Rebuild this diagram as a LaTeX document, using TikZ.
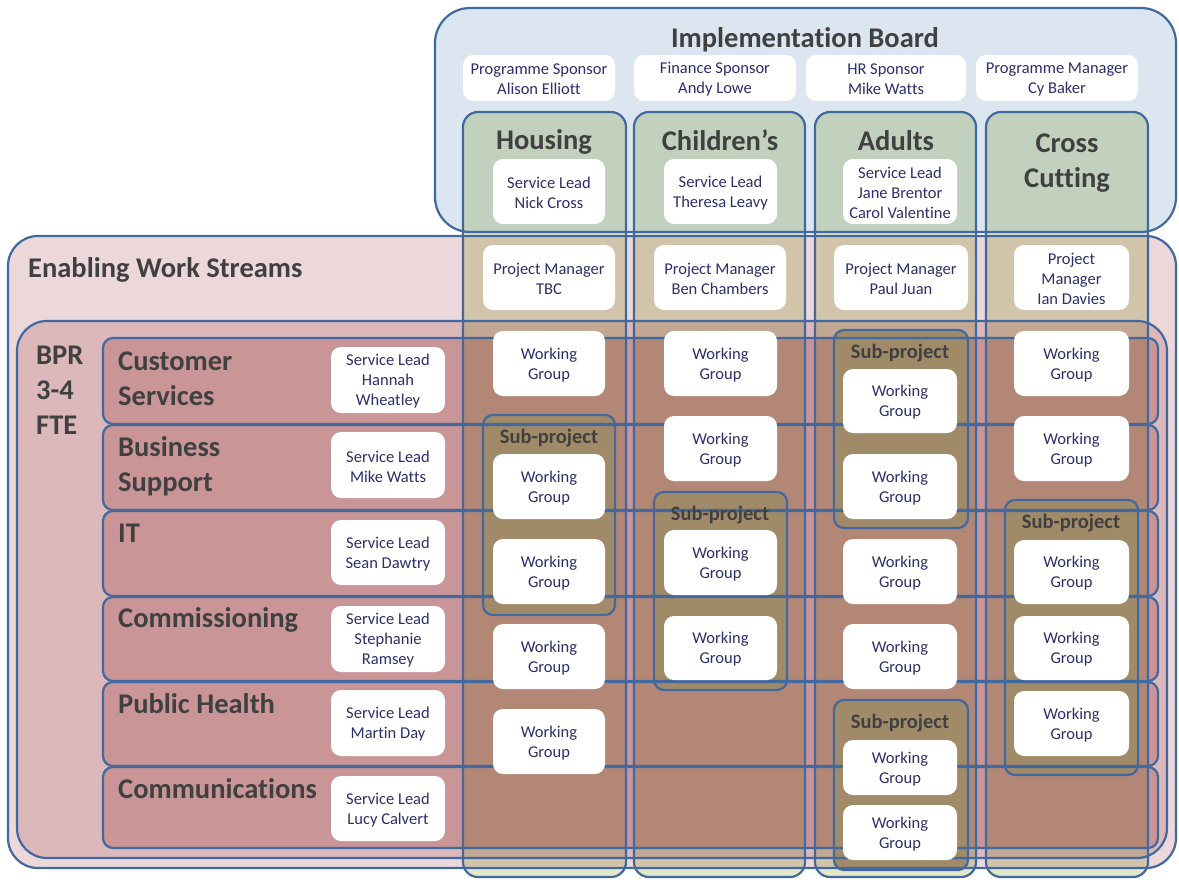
\documentclass[tikz,border=0pt]{standalone}
\usepackage{fontspec}
\setmainfont{Carlito}[Ligatures=NoCommon]
\definecolor{bd}{HTML}{41699F}
\definecolor{boardfill}{HTML}{DCE6F1}
\definecolor{enfill}{HTML}{ECD8DA}
\definecolor{bprfill}{HTML}{DCB8BB}
\definecolor{rowfill}{HTML}{C99597}
\definecolor{colfill}{HTML}{E2E8C8}
\definecolor{subfill}{HTML}{A08A67}
\definecolor{headtxt}{HTML}{404040}
\definecolor{smalltxt}{HTML}{2C2F6B}
\tikzset{
  border/.style={draw=bd, line width=2.2pt},
  wbox/.style={fill=white, rounded corners=10pt, inner sep=0pt, align=center,
    text=smalltxt, font=\fontsize{16.5}{20}\selectfont},
  head/.style={text=headtxt, font=\bfseries\fontsize{28.5}{35}\selectfont, inner sep=0pt},
  subhead/.style={text=headtxt, font=\bfseries\fontsize{20.5}{24}\selectfont, inner sep=0pt},
}
% white box: name, x1, y1, x2, y2, text
\newcommand\wboxat[6]{%
  \path (#2,#3) rectangle (#4,#5);
  \fill[white, rounded corners=10pt] (#2,#3) rectangle (#4,#5);
  \node[text=smalltxt, font=\fontsize{16.5}{20}\selectfont, align=center, inner sep=0pt]
    (#1) at ({(#2+#4)/2},{(#3+#5)/2+1.5}) {#6};}
\begin{document}
\begin{tikzpicture}[x=1pt,y=-1pt]
\useasboundingbox (0,0) rectangle (1179,879);
% ---------- fills ----------
\path[fill=boardfill, rounded corners=35pt] (435,8) rectangle (1176,232);
\path[fill=enfill, rounded corners=30pt] (8,236) rectangle (1176,868);
\path[fill=bprfill, rounded corners=30pt] (17,321) rectangle (1167,858);
\foreach \a/\b in {338/424,425/510,511/596,597/681,682/766,767/848}{
  \path[fill=rowfill, rounded corners=10pt] (103,\a) rectangle (1158,\b);
}
\begin{scope}[blend mode=multiply]
\foreach \a/\b in {463/626,634/805,815/976,986/1148}{
  \path[fill=colfill, rounded corners=15pt] (\a,112) rectangle (\b,877);
}
\end{scope}
\foreach \a/\b/\c/\d in {483/415/615/615,654/492/787/690,834/330/968/528,834/700/968/870,1005/500/1138/775}{
  \path[fill=subfill, rounded corners=10pt] (\a,\b) rectangle (\c,\d);
}
% ---------- borders ----------
\draw[border, rounded corners=35pt] (435,8) rectangle (1176,232);
\draw[border, rounded corners=30pt] (8,236) rectangle (1176,868);
\draw[border, rounded corners=30pt] (17,321) rectangle (1167,858);
\foreach \a/\b in {338/424,425/510,511/596,597/681,682/766,767/848}{
  \draw[border, rounded corners=10pt] (103,\a) rectangle (1158,\b);
}
\foreach \a/\b in {463/626,634/805,815/976,986/1148}{
  \draw[border, rounded corners=15pt] (\a,112) rectangle (\b,877);
}
\foreach \a/\b/\c/\d in {483/415/615/615,654/492/787/690,834/330/968/528,834/700/968/870,1005/500/1138/775}{
  \draw[border, rounded corners=10pt] (\a,\b) rectangle (\c,\d);
}
% ---------- headings (multi-line: base = last line) ----------
\node[head, anchor=base] (board) at (805,47) {Implementation Board};
\node[head, anchor=base west] (enab) at (28,277) {Enabling Work Streams};
\node[head, anchor=base west, align=left] (bpr) at (36,434) {BPR\\3-4\\FTE};
\node[head, anchor=base] (hous) at (544,149) {Housing};
\node[head, anchor=base] (chil) at (720,150) {Children’s};
\node[head, anchor=base] (adul) at (896,150) {Adults};
\node[head, anchor=base, align=center] (cros) at (1067,187) {Cross\\Cutting};
\node[head, anchor=base west, align=left] (rcs) at (118,405) {Customer\\Services};
\node[head, anchor=base west, align=left] (rbs) at (118,491) {Business\\Support};
\node[head, anchor=base west] (rit) at (118,542) {IT};
\node[head, anchor=base west] (rcm) at (118,627) {Commissioning};
\node[head, anchor=base west] (rph) at (118,713) {Public Health};
\node[head, anchor=base west] (rco) at (118,798) {Communications};
\node[subhead, anchor=base] (sph) at (549,443) {Sub-project};
\node[subhead, anchor=base] (spc) at (720,520) {Sub-project};
\node[subhead, anchor=base] (spa) at (900,358) {Sub-project};
\node[subhead, anchor=base] (spb) at (900,728) {Sub-project};
\node[subhead, anchor=base] (spx) at (1071,528) {Sub-project};
% ---------- board boxes ----------
\wboxat{b1}{463}{55}{615}{101}{Programme Sponsor\\Alison Elliott}
\wboxat{b2}{634}{55}{796}{101}{Finance Sponsor\\Andy Lowe}
\wboxat{b3}{806}{55}{966}{101}{HR Sponsor\\Mike Watts}
\wboxat{b4}{976}{55}{1138}{101}{Programme Manager\\Cy Baker}
% ---------- column service leads ----------
\wboxat{sh}{493}{159}{605}{224}{Service Lead\\Nick Cross}
\wboxat{sc}{664}{159}{777}{224}{Service Lead\\Theresa Leavy}
\wboxat{sa}{843}{159}{957}{224}{Service Lead\\Jane Brentor\\Carol Valentine}
% ---------- project managers ----------
\wboxat{ph}{483}{245}{615}{310}{Project Manager\\TBC}
\wboxat{pc}{654}{245}{786}{310}{Project Manager\\Ben Chambers}
\wboxat{pa}{834}{245}{968}{310}{Project Manager\\Paul Juan}
\wboxat{px}{1014}{245}{1129}{310}{Project\\Manager\\Ian Davies}
% ---------- row service leads ----------
\wboxat{l1}{331}{347}{445}{413}{Service Lead\\Hannah\\Wheatley}
\wboxat{l2}{331}{432}{445}{498}{Service Lead\\Mike Watts}
\wboxat{l3}{331}{520}{445}{585}{Service Lead\\Sean Dawtry}
\wboxat{l4}{331}{606}{445}{672}{Service Lead\\Stephanie\\Ramsey}
\wboxat{l5}{331}{690}{445}{756}{Service Lead\\Martin Day}
\wboxat{l6}{331}{776}{445}{841}{Service Lead\\Lucy Calvert}
% ---------- working groups ----------
\foreach \n/\a/\b in {1/331/396,2/454/519,3/539/604,4/624/689,5/709/774}{
  \wboxat{wh\n}{493}{\a}{605}{\b}{Working\\Group}}
\foreach \n/\a/\b in {1/331/396,2/416/481,3/530/595,4/616/680}{
  \wboxat{wc\n}{664}{\a}{777}{\b}{Working\\Group}}
\foreach \n/\a/\b in {1/369/433,2/454/519,3/539/604,4/624/689,5/740/795,6/805/860}{
  \wboxat{wa\n}{843}{\a}{957}{\b}{Working\\Group}}
\foreach \n/\a/\b in {1/331/396,2/416/481,3/540/604,4/616/680,5/691/756}{
  \wboxat{wx\n}{1014}{\a}{1129}{\b}{Working\\Group}}
\end{tikzpicture}
\end{document}
